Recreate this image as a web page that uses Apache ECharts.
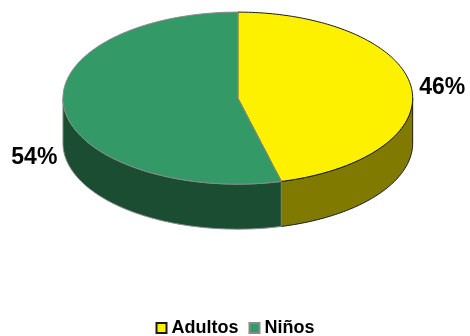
<!DOCTYPE html>
<html><head><meta charset="utf-8">
<script src="https://cdn.jsdelivr.net/npm/echarts@6/dist/echarts.min.js"></script>
<style>html,body{margin:0;padding:0;background:#fff}#chart{width:470px;height:336px}</style>
</head><body><div id="chart"></div>
<script>
// Share of each group, drawn as a tilted pie with a visible rim
const categories = ['Adultos', 'Niños'];
const shares = [46, 54];
const topColors = ['#FDF100', '#339966'];
const sideColors = ['#807B00', '#1B4D33'];
const edgeColors = ['#1a1a1a', '#8a8a8a'];

const total = shares.reduce((a, b) => a + b, 0);
const starts = [];
let acc = 0;
shares.forEach(v => { starts.push(acc / total * Math.PI * 2); acc += v; });

// ellipse layout relative to the chart size
function geom(api) {
  const W = api.getWidth(), H = api.getHeight();
  return { cx: W * 0.506, cy: H * 0.292, rx: W * 0.372, ry: H * 0.256, depth: H * 0.134 };
}
// point on the rim, angle measured clockwise from 12 o'clock
function rim(g, t, dy) {
  return [g.cx + g.rx * Math.sin(t), g.cy - g.ry * Math.cos(t) + (dy || 0)];
}
function arc(g, a, b, dy) {
  const n = Math.max(2, Math.ceil((b - a) / 0.02));
  const pts = [];
  for (let i = 0; i <= n; i++) pts.push(rim(g, a + (b - a) * i / n, dy));
  return pts;
}

function renderSlice(k) {
  return function (params, api) {
    const g = geom(api);
    const a0 = starts[k], a1 = a0 + shares[k] / total * Math.PI * 2;
    const children = [];
    // side wall, only the front half of the disc is visible
    const s = Math.max(a0, Math.PI / 2), e = Math.min(a1, Math.PI * 1.5);
    if (e > s) {
      const top = arc(g, s, e, 0), bot = arc(g, s, e, g.depth).reverse();
      children.push({ type: 'polygon', shape: { points: top.concat(bot) },
        style: { fill: sideColors[k], stroke: edgeColors[k], lineWidth: 1 } });
    }
    // top face
    children.push({ type: 'polygon', shape: { points: [[g.cx, g.cy]].concat(arc(g, a0, a1, 0)) },
      style: { fill: topColors[k], stroke: edgeColors[k], lineWidth: 1 }, z2: 1 });
    // percentage label beside the slice
    const m = (a0 + a1) / 2;
    const p = rim(g, m, 0);
    const right = Math.sin(m) >= 0, front = Math.cos(m) < 0;
    children.push({ type: 'text', x: p[0] + (right ? 8 : -7), y: p[1] + (front ? g.depth + 4 : 0),
      style: { text: Math.round(shares[k] / total * 100) + '%', font: 'bold 23px Arial, "Liberation Sans"',
        fill: '#000', align: right ? 'left' : 'right', verticalAlign: 'middle' }, z2: 2 });
    return { type: 'group', children };
  };
}

const chart = echarts.init(document.getElementById('chart'), null, { renderer: 'canvas' });
chart.setOption({
  animation: false,
  backgroundColor: '#fff',
  legend: {
    data: categories,
    left: 'center',
    top: 314,
    icon: 'rect',
    itemWidth: 10,
    itemHeight: 10,
    itemGap: 10,
    textStyle: { fontFamily: 'Arial, "Liberation Sans"', fontWeight: 'bold', fontSize: 18, color: '#000' }
  },
  series: categories.map((name, k) => ({
    type: 'custom',
    name: name,
    coordinateSystem: 'none',
    silent: true,
    renderItem: renderSlice(k),
    itemStyle: { color: topColors[k], borderColor: edgeColors[k], borderWidth: 1 },
    data: [shares[k]]
  }))
});
</script>
</body></html>
